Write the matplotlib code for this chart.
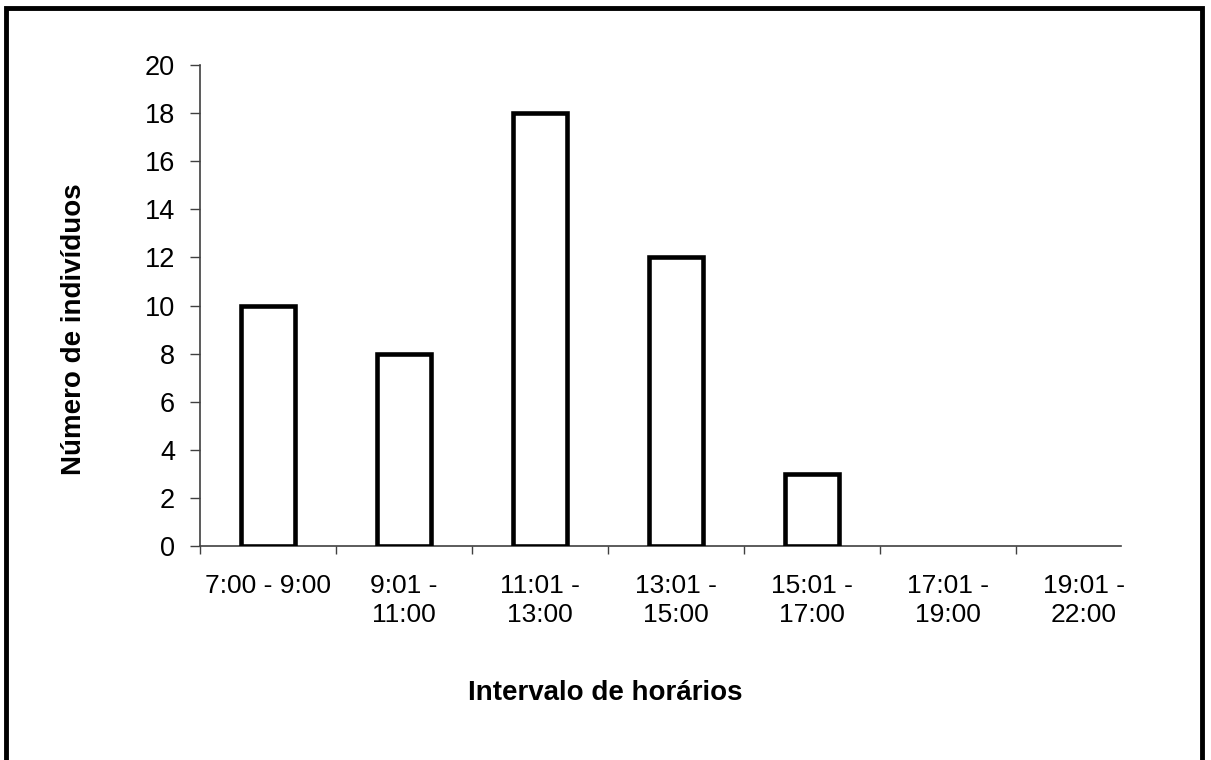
import numpy as np
import matplotlib.pyplot as plt
from matplotlib.patches import Rectangle
from matplotlib.transforms import Bbox, TransformedBbox

plt.rcParams['font.family'] = ['Liberation Sans', 'DejaVu Sans']

# dados
intervalos = ['7:00 - 9:00', '9:01 -\n11:00', '11:01 -\n13:00', '13:01 -\n15:00',
              '15:01 -\n17:00', '17:01 -\n19:00', '19:01 -\n22:00']
individuos = [10, 8, 18, 12, 3, 0, 0]
y_ticks = [0, 2, 4, 6, 8, 10, 12, 14, 16, 18, 20]

fig = plt.figure(figsize=(12.11, 7.6), dpi=100)
ax = fig.add_axes([200/1211, 1 - 546/760, 921/1211, 481/760])

x = np.arange(len(intervalos))
# barras brancas com contorno preto (so as que tem valor)
for xi, v in zip(x, individuos):
    if v > 0:
        ax.bar(xi, v, width=0.4, color='white', edgecolor='black', linewidth=3.3, zorder=3)

ax.set_xlim(-0.5, -0.5 + 921/136)
ax.set_ylim(0, 20)
ax.set_yticks(y_ticks)
ax.tick_params(axis='y', labelsize=19.5, length=7, width=1, color='#404040', pad=11)

# rotulos no centro, tracinhos nas divisoes
ax.set_xticks(x)
ax.set_xticklabels(intervalos, fontsize=19, linespacing=1.25)
ax.tick_params(axis='x', which='major', length=0, pad=20)
ax.set_xticks(np.arange(-0.5, 6.0, 1), minor=True)
ax.tick_params(axis='x', which='minor', length=6, width=1, color='#404040')

for s in ['top', 'right']:
    ax.spines[s].set_visible(False)
for s in ['left', 'bottom']:
    ax.spines[s].set_color('#404040')
    ax.spines[s].set_linewidth(1.2)

ax.set_ylabel('Número de indivíduos', fontsize=20, fontweight='bold')
ax.yaxis.set_label_coords(-0.123, 0.45)
xl = ax.set_xlabel('Intervalo de horários', fontsize=20, fontweight='bold')
ax.xaxis.set_label_coords(0.44, -0.278)
# no original o titulo do eixo x aparece cortado embaixo
xl.set_clip_box(TransformedBbox(Bbox([[0, 1 - 702/760], [1, 1]]), fig.transFigure))
xl.set_clip_on(True)

# moldura do grafico
fig.patches.append(Rectangle((6/1211, -0.05), 1196/1211, 1 - 8/760 + 0.05,
                             transform=fig.transFigure, fill=False,
                             edgecolor='black', linewidth=3.5))

fig.savefig('out.png', dpi=100)
